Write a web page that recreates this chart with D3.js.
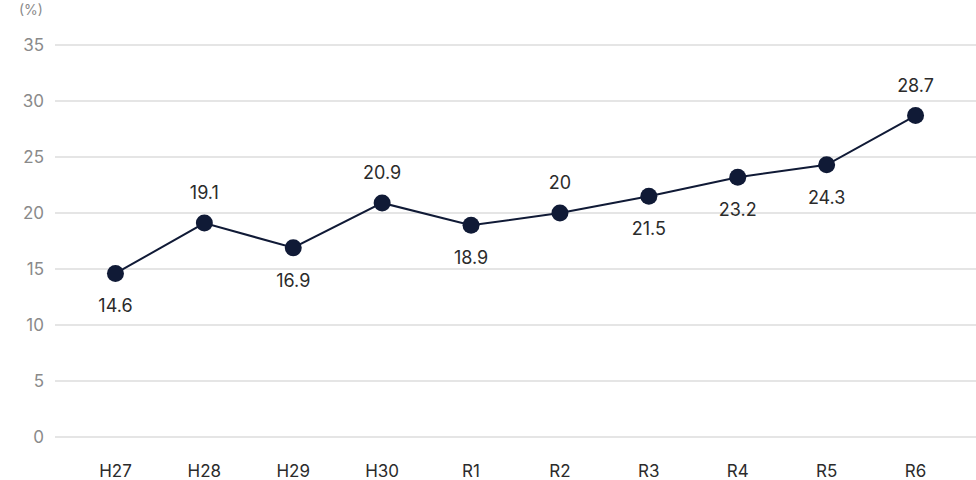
<!DOCTYPE html>
<meta charset="utf-8">
<head>
  <title>Line chart</title>
</head>
<style>
    body { margin: 0; background: #fff; }
    svg { display: block; font-family: Inter, "Noto Sans", sans-serif; }
    .grid line { stroke: #dcdcdc; stroke-width: 1.5px; }
    .ylab { fill: #8a8a8a; font-size: 17px; }
    .xlab { fill: #2b2b2b; font-size: 17px; }
    .vlab { fill: #2b2b2b; font-size: 18px; }
</style>
<body>
<svg id="chart" width="976" height="480"></svg>
<script src="https://cdn.jsdelivr.net/npm/d3@7"></script>
<script>
    var years = ["H27","H28","H29","H30","R1","R2","R3","R4","R5","R6"];
    var values = [14.6, 19.1, 16.9, 20.9, 18.9, 20, 21.5, 23.2, 24.3, 28.7];
    var labelPos = ["below","above","below","above","below","above","below","below","below","above"];
    var yTicks = [0, 5, 10, 15, 20, 25, 30, 35];

    var svg = d3.select("#chart");
    var navy = "#101a36";

    var x = d3.scalePoint()
        .domain(years)
        .range([55, 976])
        .padding(0.68);

    var y = d3.scaleLinear()
        .domain([0, 35])
        .range([437, 45]);

    // grid
    svg.append("g").attr("class", "grid")
        .selectAll("line")
        .data(yTicks)
        .enter().append("line")
        .attr("x1", 55).attr("x2", 976)
        .attr("y1", function(d) { return y(d); })
        .attr("y2", function(d) { return y(d); });

    svg.append("g")
        .selectAll("text")
        .data(yTicks)
        .enter().append("text")
        .attr("class", "ylab")
        .attr("x", 44)
        .attr("y", function(d) { return y(d); })
        .attr("dy", "0.35em")
        .attr("text-anchor", "end")
        .text(function(d) { return d; });

    svg.append("text")
        .attr("class", "ylab")
        .attr("x", 31).attr("y", 15)
        .attr("text-anchor", "middle")
        .style("font-size", "14px")
        .text("(%)");

    svg.append("g")
        .selectAll("text")
        .data(years)
        .enter().append("text")
        .attr("class", "xlab")
        .attr("x", function(d) { return x(d); })
        .attr("y", 477)
        .attr("text-anchor", "middle")
        .text(function(d) { return d; });

    var line = d3.line()
        .x(function(d, i) { return x(years[i]); })
        .y(function(d) { return y(d); });

    svg.append("path")
        .datum(values)
        .attr("d", line)
        .attr("fill", "none")
        .attr("stroke", navy)
        .attr("stroke-width", 2);

    svg.append("g")
        .selectAll("circle")
        .data(values)
        .enter().append("circle")
        .attr("cx", function(d, i) { return x(years[i]); })
        .attr("cy", function(d) { return y(d); })
        .attr("r", 8.5)
        .attr("fill", navy);

    svg.append("g")
        .selectAll("text")
        .data(values)
        .enter().append("text")
        .attr("class", "vlab")
        .attr("x", function(d, i) { return x(years[i]); })
        .attr("y", function(d, i) { return y(d) + (labelPos[i] === "above" ? -24 : 39); })
        .attr("text-anchor", "middle")
        .text(function(d) { return d; });
</script>
</body>
